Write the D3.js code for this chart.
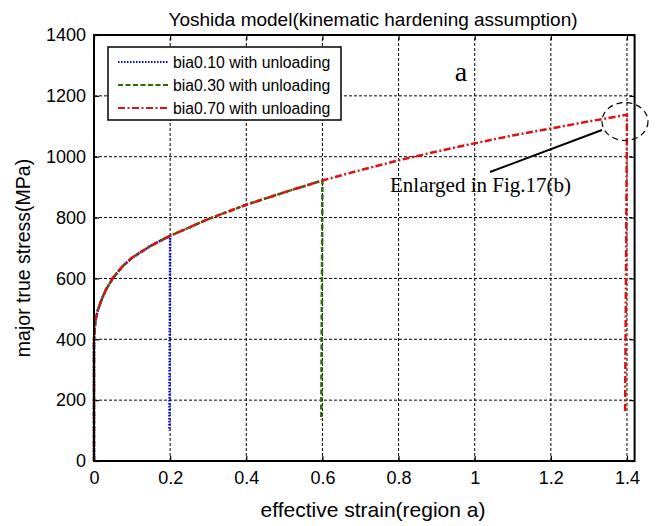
<!DOCTYPE html>
<html><head><meta charset="utf-8">
<script src="https://cdn.jsdelivr.net/npm/d3@7"></script>
<style>body{margin:0;background:#fff}svg{display:block}</style>
</head><body>
<script>
// ---- data ----
const strain = [0, 0, 0.002, 0.005, 0.01, 0.02, 0.03, 0.05, 0.075, 0.1, 0.15, 0.2, 0.3, 0.4, 0.5, 0.6, 0.7, 0.8, 0.9, 1.0, 1.1, 1.2, 1.3, 1.4];
const stress = [0, 400, 440, 470, 495, 530, 560, 602, 640, 668, 708, 740, 795, 842, 883, 922, 956, 988, 1017, 1044, 1070, 1093, 1116, 1138];
const seriesNames = ["bia0.10 with unloading", "bia0.30 with unloading", "bia0.70 with unloading"];
const unloadStrain = [0.2, 0.6, 1.4];
const unloadEndStrain = [0.198, 0.597, 1.395];
const unloadEndStress = [100, 135, 160];
const xTicks = [0, 0.2, 0.4, 0.6, 0.8, 1, 1.2, 1.4];
const yTicks = [0, 200, 400, 600, 800, 1000, 1200, 1400];

const colors = ["#0000ff", "#2d6a0a", "#dd1111"];
const dashes = ["1.5,1.5", "5,2.5", "7,2.5,2,2.5"];

const W = 661, H = 526;
const svg = d3.select("body").append("svg").attr("width", W).attr("height", H);
const x = d3.scaleLinear().domain([0, 1.42]).range([94, 634.6]);
const y = d3.scaleLinear().domain([0, 1400]).range([461, 35]);
const sans = "'Liberation Sans', Arial, sans-serif";
const serif = "'Liberation Serif', 'Times New Roman', serif";

// grid
const g = svg.append("g");
g.selectAll(".gx").data(xTicks.filter(d => d > 0)).enter().append("line")
  .attr("x1", d => x(d)).attr("x2", d => x(d)).attr("y1", y(0)).attr("y2", y(1400))
  .attr("stroke", "#000").attr("stroke-width", 1).attr("stroke-dasharray", "3,2");
g.selectAll(".gy").data(yTicks.filter(d => d > 0 && d < 1400)).enter().append("line")
  .attr("x1", x(0)).attr("x2", x(1.42)).attr("y1", d => y(d)).attr("y2", d => y(d))
  .attr("stroke", "#000").attr("stroke-width", 1).attr("stroke-dasharray", "3,2");

// axes
const axB = d3.axisBottom(x).tickValues(xTicks).tickFormat(d3.format("~g")).tickSizeInner(-5).tickSizeOuter(0).tickPadding(10);
const axT = d3.axisTop(x).tickValues(xTicks).tickFormat("").tickSizeInner(-5).tickSizeOuter(0);
const axL = d3.axisLeft(y).tickValues(yTicks).tickFormat(d3.format("d")).tickSizeInner(-5).tickSizeOuter(0).tickPadding(8);
const axR = d3.axisRight(y).tickValues(yTicks).tickFormat("").tickSizeInner(-5).tickSizeOuter(0);
function style(sel) {
  sel.select(".domain").remove();
  sel.selectAll("line").attr("stroke", "#000").attr("stroke-width", 1.2);
  sel.selectAll("text").attr("font-family", sans).attr("font-size", 18).attr("fill", "#000");
}
svg.append("g").attr("transform", `translate(0,${y(0)})`).call(axB).call(style);
svg.append("g").attr("transform", `translate(0,${y(1400)})`).call(axT).call(style);
svg.append("g").attr("transform", `translate(${x(0)},0)`).call(axL).call(style);
svg.append("g").attr("transform", `translate(${x(1.42)},0)`).call(axR).call(style);

// series
const line = d3.line().x(d => x(d[0])).y(d => y(d[1]));
const seriesData = unloadStrain.map((end, i) => {
  const pts = [];
  strain.forEach((s, k) => { if (s <= end + 1e-9) pts.push([s, stress[k]]); });
  pts.push([unloadEndStrain[i], unloadEndStress[i]]);
  return pts;
});
seriesData.forEach((pts, i) => {
  svg.append("path").datum(pts).attr("d", line).attr("fill", "none")
    .attr("stroke", colors[i]).attr("stroke-width", 2.5).attr("stroke-dasharray", dashes[i]);
});

// frame
svg.append("rect").attr("x", x(0)).attr("y", y(1400)).attr("width", x(1.42) - x(0)).attr("height", y(0) - y(1400))
  .attr("fill", "none").attr("stroke", "#000").attr("stroke-width", 2);

// legend
const lg = svg.append("g");
lg.append("rect").attr("x", 108).attr("y", 47).attr("width", 233).attr("height", 73)
  .attr("fill", "#fff").attr("stroke", "#000").attr("stroke-width", 1.5);
seriesNames.forEach((n, i) => {
  const yy = 62 + i * 23;
  lg.append("line").attr("x1", 118).attr("x2", 168).attr("y1", yy).attr("y2", yy)
    .attr("stroke", colors[i]).attr("stroke-width", 2).attr("stroke-dasharray", dashes[i]);
  lg.append("text").attr("x", 173).attr("y", yy + 5.5).text(n)
    .attr("font-family", sans).attr("font-size", 15.8).attr("fill", "#000");
});

// annotations
svg.append("text").attr("x", 461).attr("y", 81).attr("text-anchor", "middle").text("a")
  .attr("font-family", serif).attr("font-size", 28).attr("fill", "#000");
svg.append("text").attr("x", 390).attr("y", 192).text("Enlarged in Fig.17(b)")
  .attr("font-family", serif).attr("font-size", 21).attr("fill", "#000");
svg.append("line").attr("x1", 490).attr("y1", 172).attr("x2", 602).attr("y2", 130)
  .attr("stroke", "#000").attr("stroke-width", 2);
svg.append("ellipse").attr("cx", 625).attr("cy", 121.5).attr("rx", 23).attr("ry", 19)
  .attr("fill", "none").attr("stroke", "#000").attr("stroke-width", 1.2).attr("stroke-dasharray", "6,4");

// titles
svg.append("text").attr("x", 373).attr("y", 26).attr("text-anchor", "middle")
  .text("Yoshida model(kinematic hardening assumption)")
  .attr("font-family", sans).attr("font-size", 19).attr("fill", "#000");
svg.append("text").attr("x", 373).attr("y", 517).attr("text-anchor", "middle")
  .text("effective strain(region a)").attr("font-family", sans).attr("font-size", 21).attr("fill", "#000");
svg.append("text").attr("transform", "translate(30,258) rotate(-90)").attr("text-anchor", "middle")
  .text("major true stress(MPa)").attr("font-family", sans).attr("font-size", 19.5).attr("fill", "#000");
</script>
</body></html>
